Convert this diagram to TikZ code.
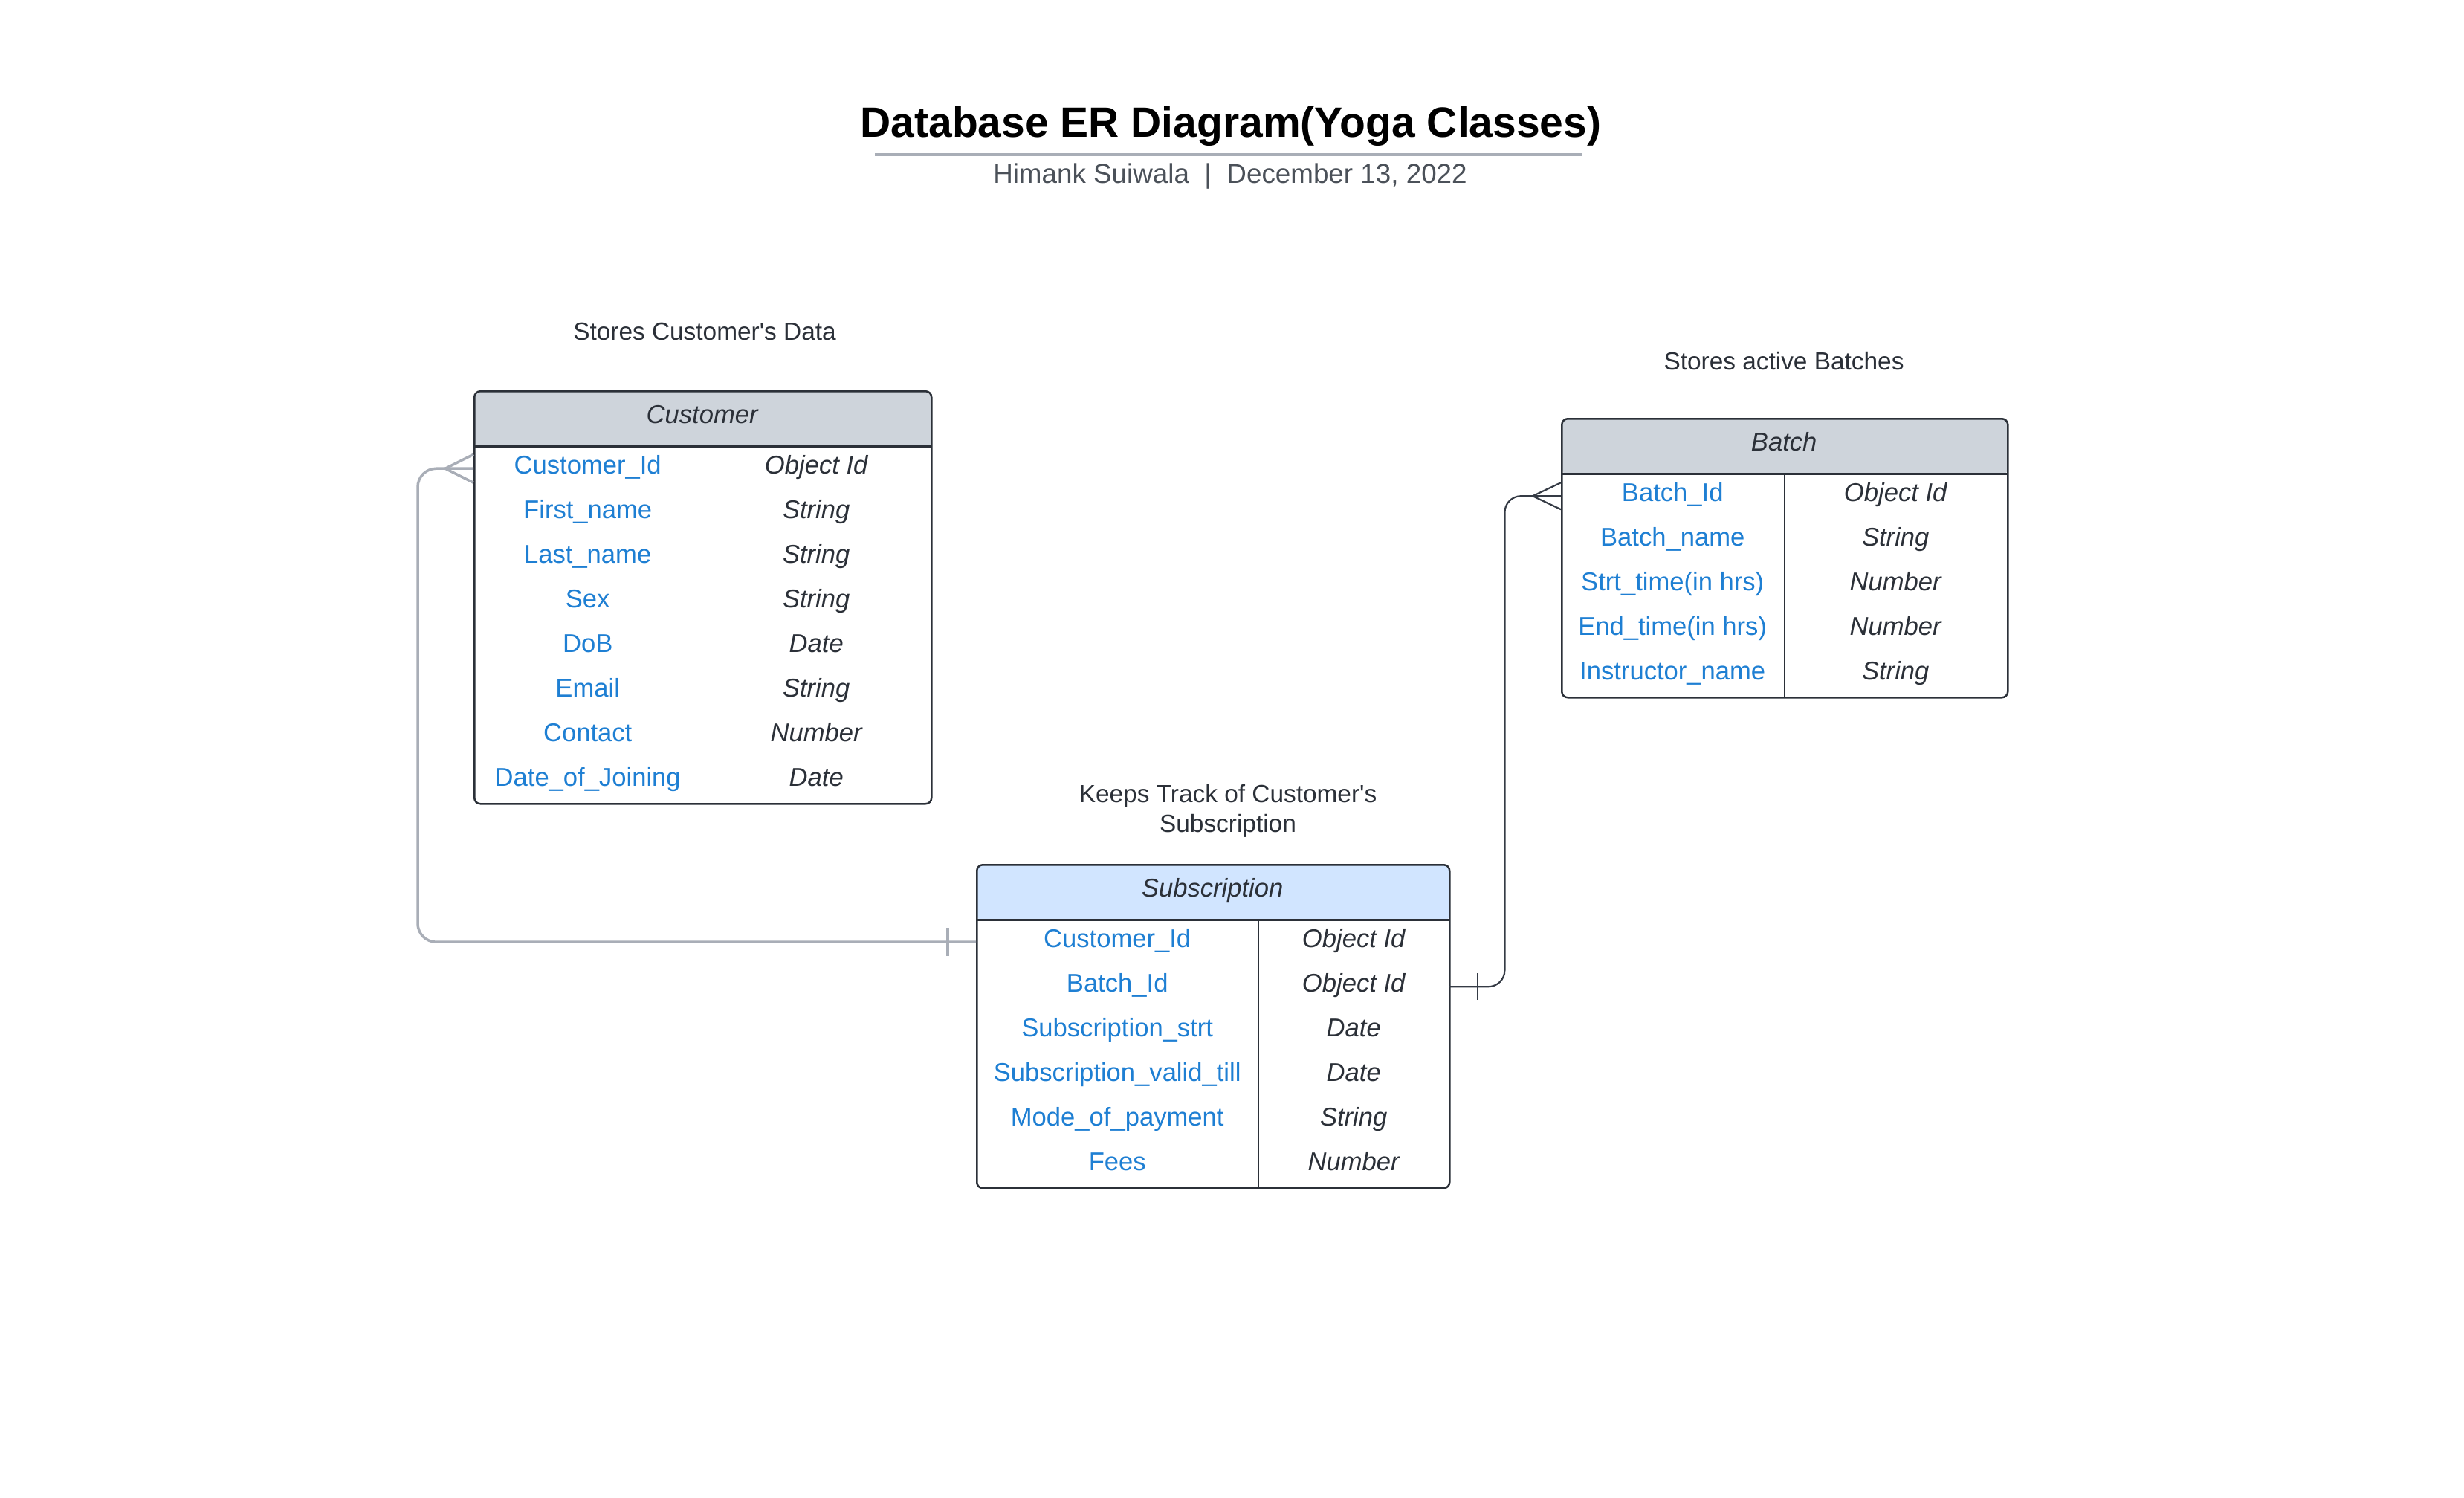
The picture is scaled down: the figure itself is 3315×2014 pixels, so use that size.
\documentclass[tikz,border=0pt]{standalone}
\usepackage{fontspec}
\setmainfont{Liberation Sans}
\newcommand\sq{\XeTeXglyph\XeTeXcharglyph"0027\relax}
\definecolor{blu}{HTML}{1E7FD3}
\definecolor{ink}{HTML}{2B3038}
\definecolor{subt}{HTML}{4B5159}
\definecolor{hdrgray}{HTML}{CED4DB}
\definecolor{hdrblue}{HTML}{D1E5FF}
\definecolor{bord}{HTML}{2B3038}
\definecolor{lgray}{HTML}{A9AEB7}
\definecolor{dconn}{HTML}{353B45}
\begin{document}
\begin{tikzpicture}[x=1pt,y=-1pt,
  tablebox/.style={draw=bord,line width=2.5pt,rounded corners=8pt,inner sep=0pt,anchor=north west},
  hdrfill/.style={path picture={\fill[#1] (path picture bounding box.north west) rectangle ([yshift=-75pt]path picture bounding box.north east);}},
  hdrcell/.style={minimum height=75pt,inner sep=0pt,anchor=north west,text height=24pt,text depth=10pt,font=\fontsize{34.6}{41}\selectfont\itshape,text=ink},
  keycell/.style={minimum height=60pt,inner sep=0pt,anchor=north west,text height=24pt,text depth=10pt,font=\fontsize{34.6}{41}\selectfont,text=blu},
  typecell/.style={minimum height=60pt,inner sep=0pt,anchor=north west,text height=24pt,text depth=10pt,font=\fontsize{34.6}{41}\selectfont\itshape,text=ink},
  hline/.style={draw=bord,line width=2.5pt},
  vline/.style={draw=bord,line width=1.6pt},
  notetext/.style={anchor=base,inner sep=0pt,align=center,text=ink,font=\fontsize{33.4}{40}\selectfont},
  gconn/.style={draw=lgray,line width=3.5pt},
  dconnl/.style={draw=dconn,line width=2.2pt},
  dconnt/.style={draw=dconn,line width=1.4pt}
]
\useasboundingbox (0,0) rectangle (3315,2014);
\fill[white] (0,0) rectangle (3315,2014);

% Title
\node[anchor=base,inner sep=0pt,font=\fontsize{57}{68}\selectfont\bfseries,text=black] (title) at (1656,184) {Database ER Diagram(Yoga Classes)};
\coordinate (ulL) at (1177,208);
\coordinate (ulR) at (2129,208);
\draw[draw=lgray,line width=4pt] (ulL) -- (ulR);
\node[anchor=base,inner sep=0pt,font=\fontsize{36.8}{44}\selectfont,text=subt] (subtitle) at (1655,246) {Himank Suiwala\ \ |\ \ December 13, 2022};

% Notes
\node[notetext] (ncust) at (948,457) {Stores Customer\sq s Data};
\node[notetext] (nbatch) at (2400,497) {Stores active Batches};
\node[notetext] (nsub) at (1652,1119) {Keeps Track of Customer\sq s\\Subscription};

% Customer table
\node[tablebox,hdrfill=hdrgray,minimum width=615pt,minimum height=555pt] (cust) at (637,525) {};
\node[hdrcell,minimum width=615pt] (custh) at (637,525) {Customer};
\foreach \k/\t [count=\i] in {Customer\_Id/Object Id,First\_name/String,Last\_name/String,Sex/String,DoB/Date,Email/String,Contact/Number,Date\_of\_Joining/Date}{
  \node[keycell,minimum width=307pt] (cuk\i) at (637,{540+60*\i}) {\k};
  \node[typecell,minimum width=308pt] (cut\i) at (944,{540+60*\i}) {\t};
}
\draw[hline] (custh.south west) -- (custh.south east);
\draw[vline] (cuk1.north east) -- (cuk8.south east);

% Batch table
\node[tablebox,hdrfill=hdrgray,minimum width=600pt,minimum height=375pt] (batch) at (2100,562) {};
\node[hdrcell,minimum width=600pt] (batchh) at (2100,562) {Batch};
\foreach \k/\t [count=\i] in {Batch\_Id/Object Id,Batch\_name/String,Strt\_time(in hrs)/Number,End\_time(in hrs)/Number,Instructor\_name/String}{
  \node[keycell,minimum width=300pt] (bk\i) at (2100,{577+60*\i}) {\k};
  \node[typecell,minimum width=300pt] (bt\i) at (2400,{577+60*\i}) {\t};
}
\draw[hline] (batchh.south west) -- (batchh.south east);
\draw[vline] (bk1.north east) -- (bk5.south east);

% Subscription table
\node[tablebox,hdrfill=hdrblue,minimum width=636pt,minimum height=435pt] (subs) at (1313,1162) {};
\node[hdrcell,minimum width=636pt] (subsh) at (1313,1162) {Subscription};
\foreach \k/\t [count=\i] in {Customer\_Id/Object Id,Batch\_Id/Object Id,Subscription\_strt/Date,Subscription\_valid\_till/Date,Mode\_of\_payment/String,Fees/Number}{
  \node[keycell,minimum width=380pt] (suk\i) at (1313,{1177+60*\i}) {\k};
  \node[typecell,minimum width=256pt] (sut\i) at (1693,{1177+60*\i}) {\t};
}
\draw[hline] (subsh.south west) -- (subsh.south east);
\draw[vline] (suk1.north east) -- (suk6.south east);

% Connector Customer (many) -- Subscription (one)
\draw[gconn,rounded corners=25pt] (cuk1.west) -- ++(-75,0) |- (suk1.west);
\draw[gconn] ([xshift=-38pt]cuk1.west) -- ([yshift=19pt]cuk1.west);
\draw[gconn] ([xshift=-38pt]cuk1.west) -- ([yshift=-19pt]cuk1.west);
\draw[gconn] ([xshift=-38pt,yshift=19pt]suk1.west) -- ([xshift=-38pt,yshift=-19pt]suk1.west);

% Connector Subscription (one) -- Batch (many)
\draw[dconnl,rounded corners=22pt] (sut2.east) -- ++(75,0) |- (bk1.west);
\draw[dconnl] ([xshift=-38pt]bk1.west) -- ([yshift=18pt]bk1.west);
\draw[dconnl] ([xshift=-38pt]bk1.west) -- ([yshift=-18pt]bk1.west);
\draw[dconnt] ([xshift=38pt,yshift=18pt]sut2.east) -- ([xshift=38pt,yshift=-18pt]sut2.east);
\end{tikzpicture}
\end{document}
